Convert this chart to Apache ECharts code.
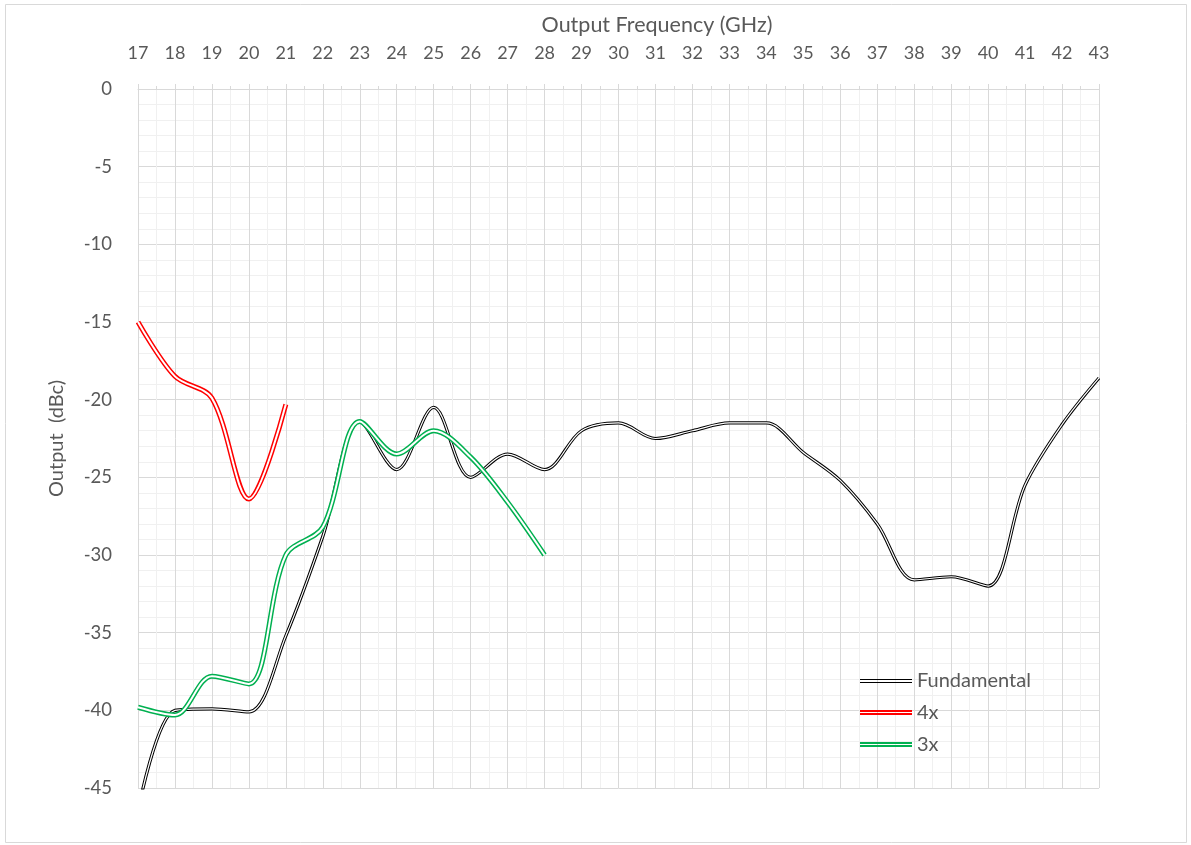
<!DOCTYPE html>
<html>
<head>
<meta charset="utf-8">
<title>Output vs Output Frequency</title>
<script src="https://cdn.jsdelivr.net/npm/echarts@6/dist/echarts.min.js"></script>
<style>
html, body { margin: 0; padding: 0; background: #fff; }
#chart { width: 1191px; height: 845px; }
</style>
</head>
<body>
<div id="chart"></div>
<script>
// values (GHz / dBc)
const freqFund = [17, 18, 19, 20, 21, 22, 23, 24, 25, 26, 27, 28, 29, 30, 31, 32, 33, 34, 35, 36, 37, 38, 39, 40, 41, 42, 43];
const fundamental = [-46.5, -40.0, -39.9, -40.1, -35.2, -28.8, -21.4, -24.5, -20.5, -25.0, -23.5, -24.5, -22.0, -21.5, -22.5, -22.0, -21.5, -21.5, -23.4, -25.2, -28.0, -31.6, -31.4, -32.0, -25.5, -21.6, -18.6];
const freq4x = [17, 18, 19, 20, 21];
const harm4x = [-15.0, -18.5, -19.9, -26.4, -20.3];
const freq3x = [17, 18, 19, 20, 21, 22, 23, 24, 25, 26, 27, 28];
const harm3x = [-39.8, -40.3, -37.8, -38.3, -30.0, -28.2, -21.4, -23.5, -22.0, -23.7, -26.6, -30.0];

const FONT = 'Lato';
const TXT = '#595959';
const GRID_MAJOR = '#d9d9d9';
const GRID_MINOR = '#f0f0f0';
const SMOOTH = 0.33;

function pairs(xs, ys) {
	return xs.map((x, i) => [x, ys[i]]);
}

// excel style "double" line: coloured stroke with a white core on top
function doubleLine(name, xs, ys, color, outer, inner, z) {
	let data = pairs(xs, ys);
	return [
		{
			name: name, type: 'line', data: data, smooth: SMOOTH,
			showSymbol: false, symbol: 'none', color: color, z: z,
			lineStyle: { color: color, width: outer },
			emphasis: { disabled: true }
		},
		{
			name: name + ' core', type: 'line', data: data, smooth: SMOOTH,
			showSymbol: false, symbol: 'none', color: '#fff', z: z + 1,
			lineStyle: { color: '#fff', width: inner },
			emphasis: { disabled: true }
		}
	];
}

function legendBox(name, icon, h, lh, top) {
	return {
		data: [{ name: name, icon: icon }],
		left: 860, top: top, padding: 0,
		itemWidth: 52, itemHeight: h, itemGap: 0,
		symbolKeepAspect: false,
		selectedMode: false,
		itemStyle: { borderWidth: 0 },
		textStyle: { color: TXT, fontSize: 20, lineHeight: lh, fontFamily: FONT }
	};
}

const chartDom = document.getElementById('chart');
const chart = echarts.init(chartDom);

const option = {
	animation: false,
	backgroundColor: '#fff',
	grid: { left: 138, right: 92, top: 89, bottom: 57, containLabel: false },
	xAxis: {
		type: 'value', position: 'top',
		min: 17, max: 43, interval: 1,
		name: 'Output Frequency (GHz)', nameLocation: 'middle', nameGap: 53,
		nameTextStyle: { color: TXT, fontSize: 21.5, fontFamily: FONT, padding: [0, 0, 0, 77] },
		axisLine: { show: true, lineStyle: { color: GRID_MAJOR } },
		axisTick: { show: true, length: 5, lineStyle: { color: GRID_MAJOR } },
		minorTick: { show: true, splitNumber: 2, length: 3, lineStyle: { color: GRID_MAJOR } },
		axisLabel: { color: TXT, fontSize: 18, fontFamily: FONT, margin: 27 },
		splitLine: { show: true, lineStyle: { color: GRID_MAJOR } },
		minorSplitLine: { show: true, lineStyle: { color: GRID_MINOR } }
	},
	yAxis: {
		type: 'value',
		min: -45, max: 0, interval: 5,
		name: 'Output  (dBc)', nameLocation: 'middle', nameGap: 71,
		nameTextStyle: { color: TXT, fontSize: 20, fontFamily: FONT },
		axisLine: { show: true, lineStyle: { color: GRID_MAJOR } },
		axisTick: { show: false },
		minorTick: { show: false, splitNumber: 5 },
		axisLabel: { color: TXT, fontSize: 18.5, fontFamily: FONT, margin: 26 },
		splitLine: { show: true, lineStyle: { color: GRID_MAJOR } },
		minorSplitLine: { show: true, lineStyle: { color: GRID_MINOR } }
	},
	legend: [
		legendBox('Fundamental', 'path://M0,0H52V1H0Z M0,3H52V4H0Z', 4, 20, 671),
		legendBox('4x', 'path://M0,0H52V2H0Z M0,3H52V5H0Z', 5, 21, 702),
		legendBox('3x', 'path://M0,0H52V2H0Z M0,3H52V5H0Z', 5, 21, 734)
	],
	graphic: [{
		type: 'rect', silent: true,
		shape: { x: 5.5, y: 4.5, width: 1181, height: 838 },
		style: { fill: 'none', stroke: GRID_MAJOR, lineWidth: 1 }
	}],
	series: [].concat(
		doubleLine('Fundamental', freqFund, fundamental, '#000000', 3.2, 1.2, 2),
		doubleLine('4x', freq4x, harm4x, '#ff0000', 5, 2, 4),
		doubleLine('3x', freq3x, harm3x, '#00b050', 5, 2, 6)
	)
};

chart.setOption(option);
</script>
</body>
</html>
